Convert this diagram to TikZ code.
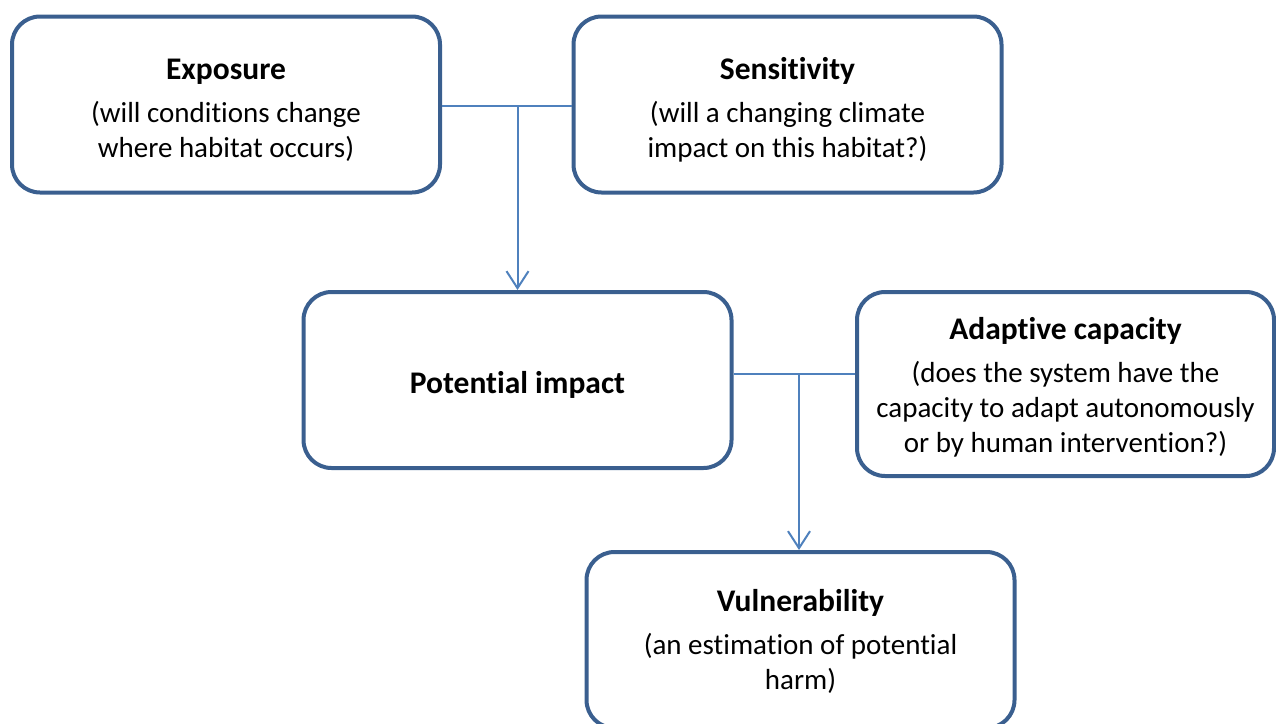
\documentclass[tikz,border=0pt]{standalone}
\usepackage{fontspec}
\setmainfont{Carlito}[Ligatures=NoCommon]
\usetikzlibrary{arrows.meta}
\definecolor{boxc}{HTML}{3A5F8F}
\definecolor{linec}{HTML}{4F81BD}
\newcommand{\ttl}[2][32pt]{{\fontsize{31.5}{35}\selectfont\bfseries\rule{0pt}{#1}#2}}
\begin{document}
\begin{tikzpicture}[x=1pt,y=-1pt,
  box/.style={draw=boxc, line width=4pt, rounded corners=28pt, minimum width=428pt,
    minimum height=176pt, align=center, font=\fontsize{29}{35}\selectfont, inner sep=0pt},
  conn/.style={draw=linec, line width=2pt},
  arr/.style={conn, -{Straight Barb[length=17pt,width=22pt,line width=2pt]}}]
\useasboundingbox (0,0) rectangle (1276,723);
\clip (0,0) rectangle (1276,723);
\node[box] (exp) at (226,104.5) {\ttl{Exposure}\\[8pt](will conditions change\\where habitat occurs)};
\node[box] (sens) at (787.5,104.5) {\ttl{Sensitivity}\\[8pt](will a changing climate\\impact on this habitat?)};
\node[box] (pot) at (517.5,380) {\ttl{Potential impact}};
\node[box, minimum width=417pt, minimum height=184pt] (adapt) at (1065.5,384) {\ttl[28pt]{Adaptive capacity}\\[8pt](does the system have the\\capacity to adapt autonomously\\or by human intervention?)};
\node[box] (vul) at (800.5,640) {\ttl[25pt]{Vulnerability}\\[8pt](an estimation of potential\\harm)};
\coordinate (j1) at (517.5,106);
\coordinate (j2) at (799,374);
\draw[conn] (exp.east |- j1) -- (sens.west |- j1);
\draw[arr] (j1) -- (pot.north);
\draw[conn] (pot.east |- j2) -- (adapt.west |- j2);
\draw[arr] (j2) -- (vul.north -| j2);
\end{tikzpicture}
\end{document}
